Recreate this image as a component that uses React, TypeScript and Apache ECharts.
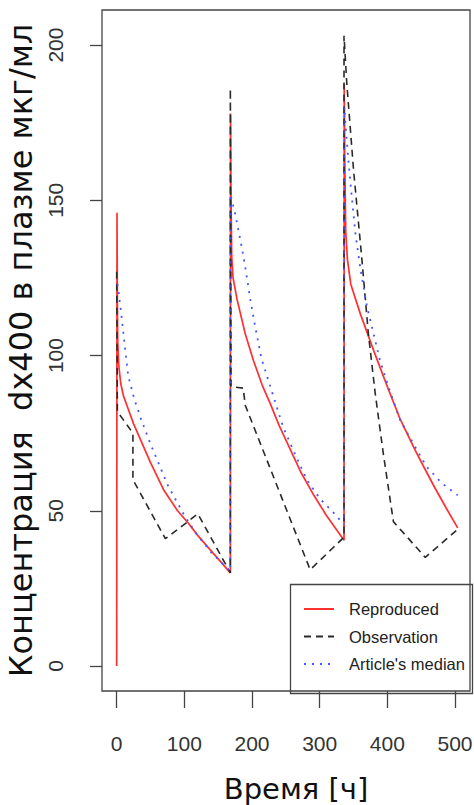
import React, { useEffect, useRef } from 'react';
import * as echarts from 'echarts';

// Reproduced (model) curve, three doses
const reproducedTime = [
  0, 0.5, 1, 1.5, 3, 6, 10, 15, 25, 35, 50, 70, 90, 106, 120, 138, 150, 168,
  168.3, 169, 170, 172, 178, 190, 202, 215, 227, 240, 256, 272, 290, 310, 336,
  336.3, 337, 338.5, 341, 346, 360, 380, 400, 419, 440, 453, 470, 488, 504,
];
const reproducedConc = [
  0, 146, 118, 105, 97, 91, 87, 84, 78, 73, 65.5, 56.5, 50, 46, 42, 37.5, 34.5, 30,
  178, 150, 132, 125, 118, 107, 98.5, 90.5, 84.5, 77.5, 70, 62.5, 55.5, 48.5, 40.5,
  187.5, 165, 140, 131, 123, 113.5, 101.5, 90, 79.5, 70, 64.5, 57.5, 50.5, 44.5,
];

// Observation
const observationTime = [
  0, 1, 24, 24, 72, 120, 168,
  168, 169, 187, 190, 286, 336,
  336, 340, 350, 362, 372, 382, 394, 409, 456, 504,
];
const observationConc = [
  127, 82, 75, 60, 41, 49, 30,
  186, 90, 89.5, 84, 31, 41.5,
  203, 188, 160, 132, 107, 88, 68.5, 46.5, 35, 44,
];

// Article's median
const medianTime = [
  1, 2, 7, 12, 17, 26, 36, 50, 76, 100, 118, 140, 168,
  168, 175, 183, 190, 197.5, 205, 214, 236.5, 246, 261, 281, 300, 320, 336,
  336, 336.5, 339, 342, 346, 353, 360.6, 370, 383, 389, 404, 419, 440, 458, 480, 504,
];
const medianConc = [
  123, 122, 113, 103, 93.5, 86, 79.5, 71.5, 58, 48.5, 42.5, 36.5, 30.5,
  152, 145.8, 137, 128.6, 118, 109, 99, 83.5, 77, 69.5, 60, 54, 49.5, 45.5,
  45.5, 180, 172, 164, 154.4, 139, 127.5, 115.7, 104, 98.5, 88.5, 79.2, 71, 64.2, 59, 55,
];

const xTicks = [0, 100, 200, 300, 400, 500];
const yTicks = [0, 50, 100, 150, 200];
const seriesNames = ['Reproduced', 'Observation', "Article's median"];

const zip = (t: number[], v: number[]) => t.map((x, i) => [x, v[i]]);

const SANS = "'Liberation Sans', Arial, Helvetica, sans-serif";
const AXIS_COLOR = '#444';

export default function App() {
  const ref = useRef<HTMLDivElement>(null);
  useEffect(() => {
    const chart = echarts.init(ref.current!, null, { renderer: 'svg' });
    chart.setOption({
      animation: false,
      backgroundColor: '#ffffff',
      grid: {
        left: 102, top: 10, width: 368, height: 681,
        outerBoundsMode: 'none', containLabel: false,
        show: true, borderColor: AXIS_COLOR, borderWidth: 1.3,
      },
      xAxis: {
        type: 'value', min: -21.7, max: 522.2,
        axisLine: { show: false, onZero: false },
        splitLine: { show: false },
        axisTick: { show: true, customValues: xTicks, length: 17, lineStyle: { color: AXIS_COLOR, width: 1.3 } },
        axisLabel: { customValues: xTicks, margin: 42, fontSize: 21, fontFamily: SANS, color: '#333' },
        name: 'Время [ч]', nameLocation: 'middle', nameGap: 83,
        nameTextStyle: { fontSize: 29, lineHeight: 29, fontFamily: 'DejaVu Sans', color: '#111', padding: [0, 0, 0, 20] },
      },
      yAxis: {
        type: 'value', min: -8.05, max: 211.3,
        axisLine: { show: false, onZero: false },
        splitLine: { show: false },
        axisTick: { show: true, customValues: yTicks, length: 12, lineStyle: { color: AXIS_COLOR, width: 1.3 } },
        axisLabel: { customValues: yTicks, rotate: 90, margin: 36, fontSize: 21, fontFamily: SANS, color: '#333' },
        name: 'Концентрация  dx400 в плазме мкг/мл', nameLocation: 'middle', nameRotate: 90, nameGap: 65,
        nameTextStyle: { fontSize: 32, fontFamily: 'DejaVu Sans', color: '#111' },
      },
      legend: {
        orient: 'vertical', left: 303, top: 599, padding: 0,
        itemWidth: 30, itemHeight: 14, itemGap: 7.5,
        itemStyle: { opacity: 0 },
        textStyle: { fontSize: 16.5, fontFamily: SANS, color: '#222', lineHeight: 20, padding: [0, 0, 0, 10] },
        data: seriesNames,
      },
      graphic: [
        {
          type: 'rect', left: 288, top: 582, silent: true,
          shape: { width: 182, height: 109 },
          style: { fill: 'none', stroke: AXIS_COLOR, lineWidth: 1.3 },
        },
      ],
      series: [
        {
          type: 'line', name: seriesNames[0], data: zip(reproducedTime, reproducedConc),
          symbol: 'none', showSymbol: false,
          lineStyle: { color: '#ff3030', width: 1.7 }, itemStyle: { color: '#ff3030' },
        },
        {
          type: 'line', name: seriesNames[1], data: zip(observationTime, observationConc),
          symbol: 'none', showSymbol: false,
          lineStyle: { color: '#2a2a2a', width: 1.6, type: [7, 5] }, itemStyle: { color: '#2a2a2a' },
        },
        {
          type: 'line', name: seriesNames[2], data: zip(medianTime, medianConc),
          symbol: 'none', showSymbol: false,
          lineStyle: { color: '#4455ff', width: 1.8, type: [2, 6] }, itemStyle: { color: '#4455ff' },
        },
      ],
    });
    return () => chart.dispose();
  }, []);
  return (
    <div
      ref={ref}
      style={{ position: 'absolute', left: 0, top: 0, width: 474, height: 805, background: '#fff' }}
    />
  );
}
